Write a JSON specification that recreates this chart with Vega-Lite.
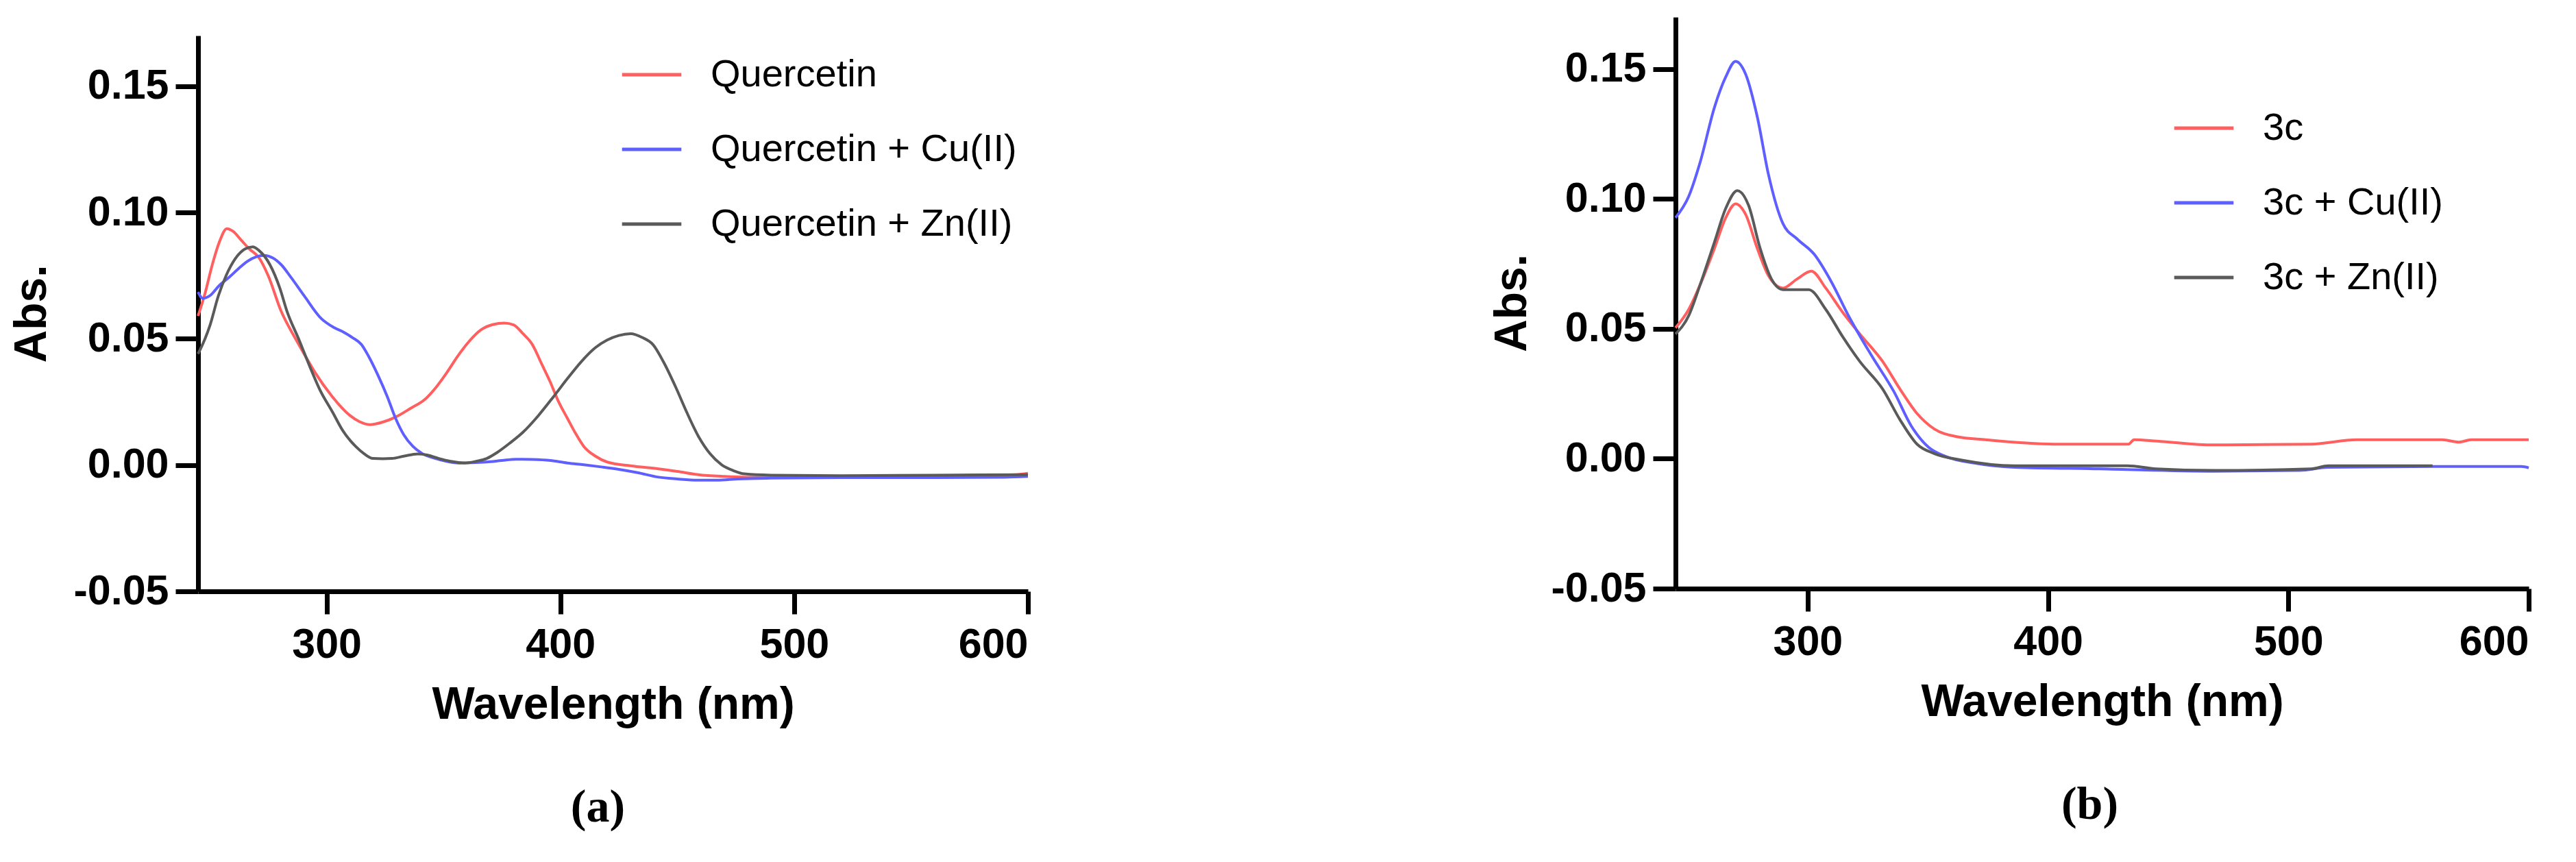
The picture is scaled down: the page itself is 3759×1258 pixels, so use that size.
{
  "$schema": "https://vega.github.io/schema/vega-lite/v6.json",
  "background": "white",
  "padding": {"left": 13, "top": 20, "right": 0, "bottom": 0},
  "spacing": 665,
  "resolve": {"scale": {"color": "independent"}, "legend": {"color": "independent"}},
  "datasets": {
    "a": [
      {"wl":245,"abs":0.059,"s":"Quercetin"},{"wl":248,"abs":0.068,"s":"Quercetin"},{"wl":251,"abs":0.079,"s":"Quercetin"},{"wl":254,"abs":0.088,"s":"Quercetin"},{"wl":257.3,"abs":0.0936,"s":"Quercetin"},{"wl":260,"abs":0.0925,"s":"Quercetin"},{"wl":263.5,"abs":0.089,"s":"Quercetin"},{"wl":267,"abs":0.0855,"s":"Quercetin"},{"wl":270.8,"abs":0.0824,"s":"Quercetin"},{"wl":275,"abs":0.075,"s":"Quercetin"},{"wl":280.5,"abs":0.061,"s":"Quercetin"},{"wl":286.7,"abs":0.05,"s":"Quercetin"},{"wl":291,"abs":0.043,"s":"Quercetin"},{"wl":295,"abs":0.0367,"s":"Quercetin"},{"wl":302.5,"abs":0.027,"s":"Quercetin"},{"wl":310,"abs":0.0196,"s":"Quercetin"},{"wl":314,"abs":0.0172,"s":"Quercetin"},{"wl":318.5,"abs":0.016,"s":"Quercetin"},{"wl":324,"abs":0.017,"s":"Quercetin"},{"wl":329.5,"abs":0.019,"s":"Quercetin"},{"wl":336,"abs":0.0225,"s":"Quercetin"},{"wl":341.8,"abs":0.0258,"s":"Quercetin"},{"wl":347,"abs":0.031,"s":"Quercetin"},{"wl":351.5,"abs":0.0367,"s":"Quercetin"},{"wl":356,"abs":0.043,"s":"Quercetin"},{"wl":361,"abs":0.049,"s":"Quercetin"},{"wl":366,"abs":0.0535,"s":"Quercetin"},{"wl":371,"abs":0.0556,"s":"Quercetin"},{"wl":376,"abs":0.0562,"s":"Quercetin"},{"wl":380,"abs":0.0555,"s":"Quercetin"},{"wl":384,"abs":0.052,"s":"Quercetin"},{"wl":388,"abs":0.0477,"s":"Quercetin"},{"wl":392,"abs":0.04,"s":"Quercetin"},{"wl":395.6,"abs":0.033,"s":"Quercetin"},{"wl":399,"abs":0.0255,"s":"Quercetin"},{"wl":403,"abs":0.0185,"s":"Quercetin"},{"wl":406.5,"abs":0.0125,"s":"Quercetin"},{"wl":410,"abs":0.0074,"s":"Quercetin"},{"wl":415,"abs":0.0035,"s":"Quercetin"},{"wl":420,"abs":0.0012,"s":"Quercetin"},{"wl":430,"abs":-0.0003,"s":"Quercetin"},{"wl":442,"abs":-0.0015,"s":"Quercetin"},{"wl":450,"abs":-0.0025,"s":"Quercetin"},{"wl":459,"abs":-0.0038,"s":"Quercetin"},{"wl":470,"abs":-0.0045,"s":"Quercetin"},{"wl":480,"abs":-0.0048,"s":"Quercetin"},{"wl":500,"abs":-0.0048,"s":"Quercetin"},{"wl":520,"abs":-0.0046,"s":"Quercetin"},{"wl":540,"abs":-0.0045,"s":"Quercetin"},{"wl":560,"abs":-0.0043,"s":"Quercetin"},{"wl":580,"abs":-0.004,"s":"Quercetin"},{"wl":595,"abs":-0.0038,"s":"Quercetin"},{"wl":600,"abs":-0.0033,"s":"Quercetin"},
      {"wl":245,"abs":0.0685,"s":"Quercetin + Cu(II)"},{"wl":247,"abs":0.066,"s":"Quercetin + Cu(II)"},{"wl":250,"abs":0.067,"s":"Quercetin + Cu(II)"},{"wl":254,"abs":0.071,"s":"Quercetin + Cu(II)"},{"wl":258.5,"abs":0.0745,"s":"Quercetin + Cu(II)"},{"wl":262,"abs":0.0775,"s":"Quercetin + Cu(II)"},{"wl":266,"abs":0.0806,"s":"Quercetin + Cu(II)"},{"wl":270,"abs":0.0825,"s":"Quercetin + Cu(II)"},{"wl":273,"abs":0.083,"s":"Quercetin + Cu(II)"},{"wl":277,"abs":0.082,"s":"Quercetin + Cu(II)"},{"wl":280.5,"abs":0.0794,"s":"Quercetin + Cu(II)"},{"wl":285,"abs":0.074,"s":"Quercetin + Cu(II)"},{"wl":290.4,"abs":0.067,"s":"Quercetin + Cu(II)"},{"wl":297.7,"abs":0.058,"s":"Quercetin + Cu(II)"},{"wl":303,"abs":0.0545,"s":"Quercetin + Cu(II)"},{"wl":307.5,"abs":0.0525,"s":"Quercetin + Cu(II)"},{"wl":311,"abs":0.0505,"s":"Quercetin + Cu(II)"},{"wl":314.9,"abs":0.0477,"s":"Quercetin + Cu(II)"},{"wl":318,"abs":0.043,"s":"Quercetin + Cu(II)"},{"wl":322,"abs":0.0355,"s":"Quercetin + Cu(II)"},{"wl":326,"abs":0.027,"s":"Quercetin + Cu(II)"},{"wl":329.5,"abs":0.0185,"s":"Quercetin + Cu(II)"},{"wl":333,"abs":0.012,"s":"Quercetin + Cu(II)"},{"wl":336.9,"abs":0.0074,"s":"Quercetin + Cu(II)"},{"wl":341,"abs":0.0045,"s":"Quercetin + Cu(II)"},{"wl":346.6,"abs":0.0026,"s":"Quercetin + Cu(II)"},{"wl":351,"abs":0.0015,"s":"Quercetin + Cu(II)"},{"wl":356.4,"abs":0.0008,"s":"Quercetin + Cu(II)"},{"wl":362,"abs":0.0009,"s":"Quercetin + Cu(II)"},{"wl":368.5,"abs":0.0012,"s":"Quercetin + Cu(II)"},{"wl":375,"abs":0.0018,"s":"Quercetin + Cu(II)"},{"wl":381,"abs":0.0023,"s":"Quercetin + Cu(II)"},{"wl":388,"abs":0.0022,"s":"Quercetin + Cu(II)"},{"wl":395.6,"abs":0.0018,"s":"Quercetin + Cu(II)"},{"wl":403,"abs":0.0008,"s":"Quercetin + Cu(II)"},{"wl":410,"abs":0.0001,"s":"Quercetin + Cu(II)"},{"wl":418,"abs":-0.0008,"s":"Quercetin + Cu(II)"},{"wl":425,"abs":-0.0017,"s":"Quercetin + Cu(II)"},{"wl":433,"abs":-0.003,"s":"Quercetin + Cu(II)"},{"wl":442,"abs":-0.0048,"s":"Quercetin + Cu(II)"},{"wl":450,"abs":-0.0055,"s":"Quercetin + Cu(II)"},{"wl":459,"abs":-0.006,"s":"Quercetin + Cu(II)"},{"wl":467,"abs":-0.006,"s":"Quercetin + Cu(II)"},{"wl":476,"abs":-0.0055,"s":"Quercetin + Cu(II)"},{"wl":490,"abs":-0.0052,"s":"Quercetin + Cu(II)"},{"wl":520,"abs":-0.005,"s":"Quercetin + Cu(II)"},{"wl":560,"abs":-0.005,"s":"Quercetin + Cu(II)"},{"wl":590,"abs":-0.0048,"s":"Quercetin + Cu(II)"},{"wl":600,"abs":-0.0045,"s":"Quercetin + Cu(II)"},
      {"wl":245,"abs":0.044,"s":"Quercetin + Zn(II)"},{"wl":248,"abs":0.05,"s":"Quercetin + Zn(II)"},{"wl":250,"abs":0.055,"s":"Quercetin + Zn(II)"},{"wl":253.7,"abs":0.067,"s":"Quercetin + Zn(II)"},{"wl":257,"abs":0.075,"s":"Quercetin + Zn(II)"},{"wl":261,"abs":0.0818,"s":"Quercetin + Zn(II)"},{"wl":265,"abs":0.0855,"s":"Quercetin + Zn(II)"},{"wl":268.4,"abs":0.0864,"s":"Quercetin + Zn(II)"},{"wl":271,"abs":0.085,"s":"Quercetin + Zn(II)"},{"wl":275.7,"abs":0.0794,"s":"Quercetin + Zn(II)"},{"wl":280,"abs":0.07,"s":"Quercetin + Zn(II)"},{"wl":283,"abs":0.061,"s":"Quercetin + Zn(II)"},{"wl":288,"abs":0.05,"s":"Quercetin + Zn(II)"},{"wl":292.8,"abs":0.039,"s":"Quercetin + Zn(II)"},{"wl":297,"abs":0.03,"s":"Quercetin + Zn(II)"},{"wl":302.5,"abs":0.021,"s":"Quercetin + Zn(II)"},{"wl":307,"abs":0.0135,"s":"Quercetin + Zn(II)"},{"wl":312.4,"abs":0.0074,"s":"Quercetin + Zn(II)"},{"wl":316,"abs":0.0045,"s":"Quercetin + Zn(II)"},{"wl":319.8,"abs":0.0026,"s":"Quercetin + Zn(II)"},{"wl":324,"abs":0.0025,"s":"Quercetin + Zn(II)"},{"wl":328,"abs":0.0026,"s":"Quercetin + Zn(II)"},{"wl":333,"abs":0.0035,"s":"Quercetin + Zn(II)"},{"wl":339,"abs":0.0044,"s":"Quercetin + Zn(II)"},{"wl":343,"abs":0.004,"s":"Quercetin + Zn(II)"},{"wl":348,"abs":0.0026,"s":"Quercetin + Zn(II)"},{"wl":353,"abs":0.0015,"s":"Quercetin + Zn(II)"},{"wl":359,"abs":0.0008,"s":"Quercetin + Zn(II)"},{"wl":364,"abs":0.0015,"s":"Quercetin + Zn(II)"},{"wl":368.5,"abs":0.0026,"s":"Quercetin + Zn(II)"},{"wl":373,"abs":0.005,"s":"Quercetin + Zn(II)"},{"wl":378.4,"abs":0.0087,"s":"Quercetin + Zn(II)"},{"wl":384,"abs":0.013,"s":"Quercetin + Zn(II)"},{"wl":390.6,"abs":0.0196,"s":"Quercetin + Zn(II)"},{"wl":397,"abs":0.027,"s":"Quercetin + Zn(II)"},{"wl":403,"abs":0.0342,"s":"Quercetin + Zn(II)"},{"wl":409,"abs":0.041,"s":"Quercetin + Zn(II)"},{"wl":415,"abs":0.0465,"s":"Quercetin + Zn(II)"},{"wl":420,"abs":0.0495,"s":"Quercetin + Zn(II)"},{"wl":425,"abs":0.0513,"s":"Quercetin + Zn(II)"},{"wl":430,"abs":0.052,"s":"Quercetin + Zn(II)"},{"wl":435,"abs":0.0505,"s":"Quercetin + Zn(II)"},{"wl":439.6,"abs":0.0477,"s":"Quercetin + Zn(II)"},{"wl":444,"abs":0.041,"s":"Quercetin + Zn(II)"},{"wl":449.4,"abs":0.0307,"s":"Quercetin + Zn(II)"},{"wl":454,"abs":0.021,"s":"Quercetin + Zn(II)"},{"wl":459.2,"abs":0.0111,"s":"Quercetin + Zn(II)"},{"wl":464,"abs":0.0045,"s":"Quercetin + Zn(II)"},{"wl":469,"abs":0.0001,"s":"Quercetin + Zn(II)"},{"wl":474,"abs":-0.0022,"s":"Quercetin + Zn(II)"},{"wl":478.7,"abs":-0.0035,"s":"Quercetin + Zn(II)"},{"wl":490,"abs":-0.004,"s":"Quercetin + Zn(II)"},{"wl":520,"abs":-0.0042,"s":"Quercetin + Zn(II)"},{"wl":560,"abs":-0.004,"s":"Quercetin + Zn(II)"},{"wl":600,"abs":-0.0038,"s":"Quercetin + Zn(II)"}
    ],
    "b": [
      {"wl":245,"abs":0.0504,"s":"3c"},{"wl":250.5,"abs":0.0575,"s":"3c"},{"wl":255.2,"abs":0.0669,"s":"3c"},{"wl":261.2,"abs":0.081,"s":"3c"},{"wl":265.9,"abs":0.0928,"s":"3c"},{"wl":270,"abs":0.0981,"s":"3c"},{"wl":274.2,"abs":0.094,"s":"3c"},{"wl":279,"abs":0.081,"s":"3c"},{"wl":283.7,"abs":0.0704,"s":"3c"},{"wl":289.7,"abs":0.0657,"s":"3c"},{"wl":295.6,"abs":0.0692,"s":"3c"},{"wl":301.5,"abs":0.0722,"s":"3c"},{"wl":307.5,"abs":0.0657,"s":"3c"},{"wl":314.6,"abs":0.0563,"s":"3c"},{"wl":321.7,"abs":0.048,"s":"3c"},{"wl":331.2,"abs":0.0374,"s":"3c"},{"wl":338.4,"abs":0.0268,"s":"3c"},{"wl":345.5,"abs":0.0174,"s":"3c"},{"wl":352.6,"abs":0.0115,"s":"3c"},{"wl":362,"abs":0.0085,"s":"3c"},{"wl":374,"abs":0.0073,"s":"3c"},{"wl":402.5,"abs":0.0056,"s":"3c"},{"wl":433.4,"abs":0.0056,"s":"3c"},{"wl":435.8,"abs":0.0073,"s":"3c"},{"wl":445.3,"abs":0.0068,"s":"3c"},{"wl":469,"abs":0.0053,"s":"3c"},{"wl":509.5,"abs":0.0056,"s":"3c"},{"wl":528.5,"abs":0.0073,"s":"3c"},{"wl":564,"abs":0.0073,"s":"3c"},{"wl":571,"abs":0.0064,"s":"3c"},{"wl":576,"abs":0.0073,"s":"3c"},{"wl":600,"abs":0.0073,"s":"3c"},
      {"wl":245,"abs":0.0928,"s":"3c + Cu(II)"},{"wl":250.5,"abs":0.101,"s":"3c + Cu(II)"},{"wl":255.2,"abs":0.114,"s":"3c + Cu(II)"},{"wl":261.2,"abs":0.1353,"s":"3c + Cu(II)"},{"wl":265.9,"abs":0.147,"s":"3c + Cu(II)"},{"wl":270,"abs":0.153,"s":"3c + Cu(II)"},{"wl":274.2,"abs":0.148,"s":"3c + Cu(II)"},{"wl":279,"abs":0.1317,"s":"3c + Cu(II)"},{"wl":283.7,"abs":0.1093,"s":"3c + Cu(II)"},{"wl":289.7,"abs":0.0905,"s":"3c + Cu(II)"},{"wl":295.6,"abs":0.0846,"s":"3c + Cu(II)"},{"wl":302.7,"abs":0.0787,"s":"3c + Cu(II)"},{"wl":309.9,"abs":0.068,"s":"3c + Cu(II)"},{"wl":317,"abs":0.055,"s":"3c + Cu(II)"},{"wl":326.5,"abs":0.0398,"s":"3c + Cu(II)"},{"wl":336,"abs":0.0256,"s":"3c + Cu(II)"},{"wl":343.1,"abs":0.0126,"s":"3c + Cu(II)"},{"wl":350.3,"abs":0.0044,"s":"3c + Cu(II)"},{"wl":357.4,"abs":0.0009,"s":"3c + Cu(II)"},{"wl":369.3,"abs":-0.0017,"s":"3c + Cu(II)"},{"wl":385.9,"abs":-0.0033,"s":"3c + Cu(II)"},{"wl":421.5,"abs":-0.0039,"s":"3c + Cu(II)"},{"wl":469,"abs":-0.0048,"s":"3c + Cu(II)"},{"wl":504.7,"abs":-0.0045,"s":"3c + Cu(II)"},{"wl":516.6,"abs":-0.0033,"s":"3c + Cu(II)"},{"wl":560,"abs":-0.003,"s":"3c + Cu(II)"},{"wl":597,"abs":-0.003,"s":"3c + Cu(II)"},{"wl":600,"abs":-0.0035,"s":"3c + Cu(II)"},
      {"wl":245,"abs":0.048,"s":"3c + Zn(II)"},{"wl":250.5,"abs":0.0551,"s":"3c + Zn(II)"},{"wl":255.2,"abs":0.0669,"s":"3c + Zn(II)"},{"wl":261.2,"abs":0.0834,"s":"3c + Zn(II)"},{"wl":265.9,"abs":0.0964,"s":"3c + Zn(II)"},{"wl":270.7,"abs":0.1032,"s":"3c + Zn(II)"},{"wl":275.4,"abs":0.0975,"s":"3c + Zn(II)"},{"wl":280.2,"abs":0.081,"s":"3c + Zn(II)"},{"wl":284.9,"abs":0.0692,"s":"3c + Zn(II)"},{"wl":289.7,"abs":0.0651,"s":"3c + Zn(II)"},{"wl":300.4,"abs":0.0651,"s":"3c + Zn(II)"},{"wl":307.5,"abs":0.0575,"s":"3c + Zn(II)"},{"wl":314.6,"abs":0.0469,"s":"3c + Zn(II)"},{"wl":321.7,"abs":0.0374,"s":"3c + Zn(II)"},{"wl":331.2,"abs":0.0268,"s":"3c + Zn(II)"},{"wl":338.4,"abs":0.015,"s":"3c + Zn(II)"},{"wl":345.5,"abs":0.0056,"s":"3c + Zn(II)"},{"wl":352.6,"abs":0.002,"s":"3c + Zn(II)"},{"wl":364.5,"abs":-0.0006,"s":"3c + Zn(II)"},{"wl":385.9,"abs":-0.0027,"s":"3c + Zn(II)"},{"wl":433,"abs":-0.0027,"s":"3c + Zn(II)"},{"wl":445,"abs":-0.0039,"s":"3c + Zn(II)"},{"wl":469,"abs":-0.0045,"s":"3c + Zn(II)"},{"wl":509.5,"abs":-0.0039,"s":"3c + Zn(II)"},{"wl":516.6,"abs":-0.0027,"s":"3c + Zn(II)"},{"wl":560,"abs":-0.0027,"s":"3c + Zn(II)"}
    ],
    "spacer": [{"k": 1}]
  },
  "hconcat": [
    {
      "spacing": 20,
      "vconcat": [
        {
          "width": 1211,
          "height": 3,
          "data": {"name": "spacer"},
          "mark": {"type": "text", "text": ""},
          "encoding": {}
        },
        {
          "width": 1211,
          "height": 811,
          "title": {"text": "(a)", "orient": "bottom", "font": "Liberation Serif", "fontSize": 68, "fontWeight": "bold", "color": "black", "offset": 84, "dx": -22},
          "data": {"name": "a"},
          "mark": {"type": "line", "strokeWidth": 4, "interpolate": "monotone"},
          "encoding": {
            "x": {"field": "wl", "type": "quantitative", "scale": {"domain": [245, 600], "nice": false, "zero": false}, "axis": {"values": [300, 400, 500, 600], "title": "Wavelength (nm)"}},
            "y": {"field": "abs", "type": "quantitative", "scale": {"domain": [-0.05, 0.17], "nice": false, "zero": false}, "axis": {"values": [-0.05, 0, 0.05, 0.1, 0.15], "format": ".2f", "labelExpr": "replace(datum.label, '\u2212', '-')", "title": "Abs."}},
            "color": {"field": "s", "type": "nominal", "scale": {"domain": ["Quercetin", "Quercetin + Cu(II)", "Quercetin + Zn(II)"], "range": ["#ff5f5f", "#5f5fff", "#5a5a5a"]}, "legend": {"legendX": 616, "legendY": 38}}
          }
        }
      ]
    },
    {
      "width": 1245,
      "height": 834,
      "title": {"text": "(b)", "orient": "bottom", "font": "Liberation Serif", "fontSize": 68, "fontWeight": "bold", "color": "black", "offset": 84, "dx": -18},
      "data": {"name": "b"},
      "mark": {"type": "line", "strokeWidth": 4, "interpolate": "monotone"},
      "encoding": {
        "x": {"field": "wl", "type": "quantitative", "scale": {"domain": [245, 600], "nice": false, "zero": false}, "axis": {"values": [300, 400, 500, 600], "title": "Wavelength (nm)"}},
        "y": {"field": "abs", "type": "quantitative", "scale": {"domain": [-0.05, 0.17], "nice": false, "zero": false}, "axis": {"values": [-0.05, 0, 0.05, 0.1, 0.15], "format": ".2f", "labelExpr": "replace(datum.label, '\u2212', '-')", "title": "Abs.", "titlePadding": 22}},
        "color": {"field": "s", "type": "nominal", "scale": {"domain": ["3c", "3c + Cu(II)", "3c + Zn(II)"], "range": ["#ff5f5f", "#5f5fff", "#5a5a5a"]}, "legend": {"legendX": 725, "legendY": 116}}
      }
    }
  ],
  "config": {
    "view": {"stroke": null},
    "axis": {
      "grid": false,
      "domainColor": "black", "domainWidth": 7,
      "tickColor": "black", "tickWidth": 7, "tickSize": 33,
      "labelFont": "Liberation Sans", "labelFontWeight": "bold", "labelFontSize": 61, "labelColor": "black",
      "titleFont": "Liberation Sans", "titleFontWeight": "bold", "titleFontSize": 66, "titleColor": "black"
    },
    "axisX": {"labelPadding": 15, "titlePadding": 25},
    "axisY": {"labelPadding": 10, "titlePadding": 26},
    "legend": {
      "orient": "none", "title": null,
      "symbolType": "stroke", "symbolSize": 7500, "symbolStrokeWidth": 5,
      "labelFont": "Liberation Sans", "labelFontSize": 56, "labelColor": "black",
      "labelOffset": 40, "rowPadding": 35, "labelLimit": 0
    }
  }
}
